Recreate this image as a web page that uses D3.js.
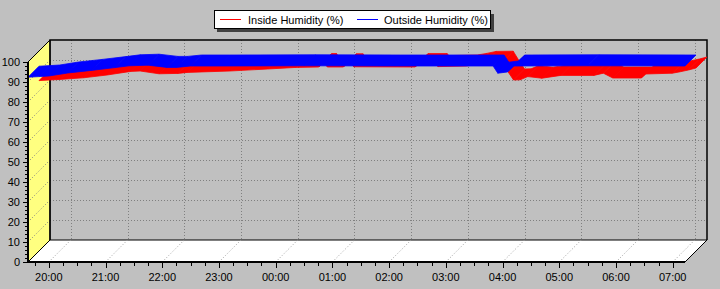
<!DOCTYPE html>
<html>
<head>
<meta charset="utf-8">
<script src="https://cdn.jsdelivr.net/npm/d3@7"></script>
<style>
  body { margin: 0; background: #c0c0c0; }
  svg { display: block; font-family: "Liberation Sans", Arial, sans-serif; font-size: 11px; }
</style>
</head>
<body>
<script>
const width = 720, height = 289;

// Inside Humidity (%) — red series, drawn in the back half of the depth
const insideTimes = ["19:38","20:00","20:25","20:50","21:15","21:25","21:45","22:05","22:15","23:00","23:40","00:10","00:34","00:36","00:41","00:43","01:00","01:02","01:09","01:11","02:16","02:18","02:38","02:40","03:10","03:20","03:30","03:48","03:55","04:00","04:07","04:15","04:30","04:50","05:25","05:35","05:45","06:15","06:20","06:48","06:55","07:05","07:13"];
const insideValues = [85.2,85.8,86.6,88.0,89.8,90.0,88.6,88.8,89.3,90.0,91.0,91.8,92.0,93.2,93.2,92.0,92.0,93.1,93.1,92.1,92.0,93.2,93.2,92.2,92.5,93.3,94.3,94.4,89.0,85.5,85.6,87.2,86.4,87.8,87.8,88.9,86.5,86.5,88.5,88.9,89.5,90.5,91.5];

// Outside Humidity (%) — blue series, drawn in the front half of the depth
const outsideTimes = ["19:38","19:50","20:00","20:20","20:45","21:10","21:25","21:45","22:05","22:15","22:30","23:00","00:30","02:00","03:50","03:55","04:05","04:12","05:30","07:13"];
const outsideValues = [92.4,92.7,93.0,94.5,95.8,97.2,98.1,98.4,97.3,97.3,98.0,98.0,98.1,98.0,98.0,94.4,95.0,98.0,98.1,98.0];

const yTickValues = [0,10,20,30,40,50,60,70,80,90,100];
const hourLabels = ["20:00","21:00","22:00","23:00","00:00","01:00","02:00","03:00","04:00","05:00","06:00","07:00"];
const seriesNames = ["Inside Humidity (%)", "Outside Humidity (%)"];
const seriesColors = ["#ff0000", "#0000ff"];

const parseT = s => {
  const [h, m] = s.split(":").map(Number);
  return new Date(2000, 0, h < 12 ? 2 : 1, h, m);
};

const depth = 22;
const x = d3.scaleTime().domain([parseT("19:38"), parseT("07:13")]).range([28, 685]);
const y = d3.scaleLinear().domain([0, 100]).range([262, 62]);
const [x0, x1] = x.range();
const [yb, yt] = y.range();

const hours = hourLabels.map(parseT);
const quarters = d3.timeMinute.every(15).range(parseT("19:45"), parseT("07:14"));
const minorY = d3.range(0, 101, 2);

const svg = d3.select("body").append("svg")
    .attr("width", width)
    .attr("height", height)
    .attr("viewBox", [0, 0, width, height]);

const grid = {stroke: "#808080", "stroke-dasharray": "1,2", "stroke-width": 1};
const applyGrid = sel => { for (const k in grid) sel.attr(k, grid[k]); return sel; };

// back wall
svg.append("rect")
    .attr("x", x0 + depth).attr("y", yt - depth)
    .attr("width", x1 - x0).attr("height", yb - yt)
    .attr("fill", "#c0c0c0");

applyGrid(svg.append("g").selectAll("line").data(yTickValues.slice(1, -1)).join("line"))
    .attr("x1", x0 + depth).attr("x2", x1 + depth)
    .attr("y1", d => y(d) - depth + 0.5).attr("y2", d => y(d) - depth + 0.5);

applyGrid(svg.append("g").selectAll("line").data(hours).join("line"))
    .attr("x1", d => Math.round(x(d)) + depth + 0.5).attr("x2", d => Math.round(x(d)) + depth + 0.5)
    .attr("y1", yt - depth).attr("y2", yb - depth);

// left wall
svg.append("path")
    .attr("fill", "#ffff80")
    .attr("stroke", "#000")
    .attr("d", `M${x0},${yt}L${x0 + depth},${yt - depth}L${x0 + depth},${yb - depth}L${x0},${yb}Z`);

applyGrid(svg.append("g").selectAll("line").data(yTickValues.slice(1, -1)).join("line"))
    .attr("x1", x0).attr("y1", d => y(d))
    .attr("x2", x0 + depth).attr("y2", d => y(d) - depth);

// floor
svg.append("path")
    .attr("fill", "#fff")
    .attr("stroke", "#000")
    .attr("d", `M${x0},${yb}L${x0 + depth},${yb - depth}L${x1 + depth},${yb - depth}L${x1},${yb}Z`);

applyGrid(svg.append("g").selectAll("line").data(hours).join("line"))
    .attr("stroke", "#a0a0a0")
    .attr("x1", d => x(d)).attr("y1", yb)
    .attr("x2", d => x(d) + depth).attr("y2", yb - depth);

// wall frame lines
svg.append("path")
    .attr("fill", "none")
    .attr("stroke", "#000")
    .attr("stroke-width", 1.5)
    .attr("d", `M${x0 + depth},${yb - depth}V${yt - depth}H${x1 + depth}V${yb - depth}`);

// ribbons
function ribbon(times, values, z0, z1, color) {
  const pts = times.map((t, i) => [x(parseT(t)), y(values[i])]);
  svg.append("g")
      .attr("fill", color)
      .attr("stroke", color)
      .attr("stroke-width", 0.8)
    .selectAll("path")
    .data(d3.pairs(pts))
    .join("path")
      .attr("d", ([a, b]) => `M${a[0] + z0},${a[1] - z0}L${b[0] + z0},${b[1] - z0}L${b[0] + z1},${b[1] - z1}L${a[0] + z1},${a[1] - z1}Z`);
}
ribbon(insideTimes, insideValues, depth / 2, depth, seriesColors[0]);
ribbon(outsideTimes, outsideValues, 0, depth / 2, seriesColors[1]);

// front axes
svg.append("path")
    .attr("fill", "none")
    .attr("stroke", "#000")
    .attr("stroke-width", 2)
    .attr("d", `M${x0},${yt}V${yb}H${x1}`);

svg.append("g").attr("stroke", "#000")
  .selectAll("line").data(minorY).join("line")
    .attr("x1", d => d % 10 ? x0 - 3 : x0 - 5).attr("x2", x0)
    .attr("y1", d => Math.round(y(d)) + 0.5).attr("y2", d => Math.round(y(d)) + 0.5);

svg.append("g")
  .selectAll("text").data(yTickValues).join("text")
    .attr("x", 20).attr("y", d => y(d))
    .attr("dy", "0.35em")
    .attr("text-anchor", "end")
    .text(d => d);

svg.append("g").attr("stroke", "#000")
  .selectAll("line").data(quarters).join("line")
    .attr("x1", d => Math.round(x(d)) + 0.5).attr("x2", d => Math.round(x(d)) + 0.5)
    .attr("y1", yb).attr("y2", d => d.getMinutes() ? yb + 4 : yb + 6);

svg.append("g")
  .selectAll("text").data(hours).join("text")
    .attr("x", d => x(d)).attr("y", 281)
    .attr("text-anchor", "middle")
    .text((d, i) => hourLabels[i]);

// legend
const legend = svg.append("g");
legend.append("rect")
    .attr("x", 217).attr("y", 14).attr("width", 277).attr("height", 18)
    .attr("fill", "#404040");
legend.append("rect")
    .attr("x", 214.5).attr("y", 10.5).attr("width", 276).attr("height", 18)
    .attr("fill", "#fff").attr("stroke", "#000");
const items = [{x: 220, tx: 248}, {x: 357, tx: 384}];
items.forEach((it, i) => {
  legend.append("line")
      .attr("x1", it.x).attr("x2", it.x + 21)
      .attr("y1", 19.5).attr("y2", 19.5)
      .attr("stroke", seriesColors[i]);
  legend.append("text")
      .attr("x", it.tx).attr("y", 23.5)
      .text(seriesNames[i]);
});
</script>
</body>
</html>
